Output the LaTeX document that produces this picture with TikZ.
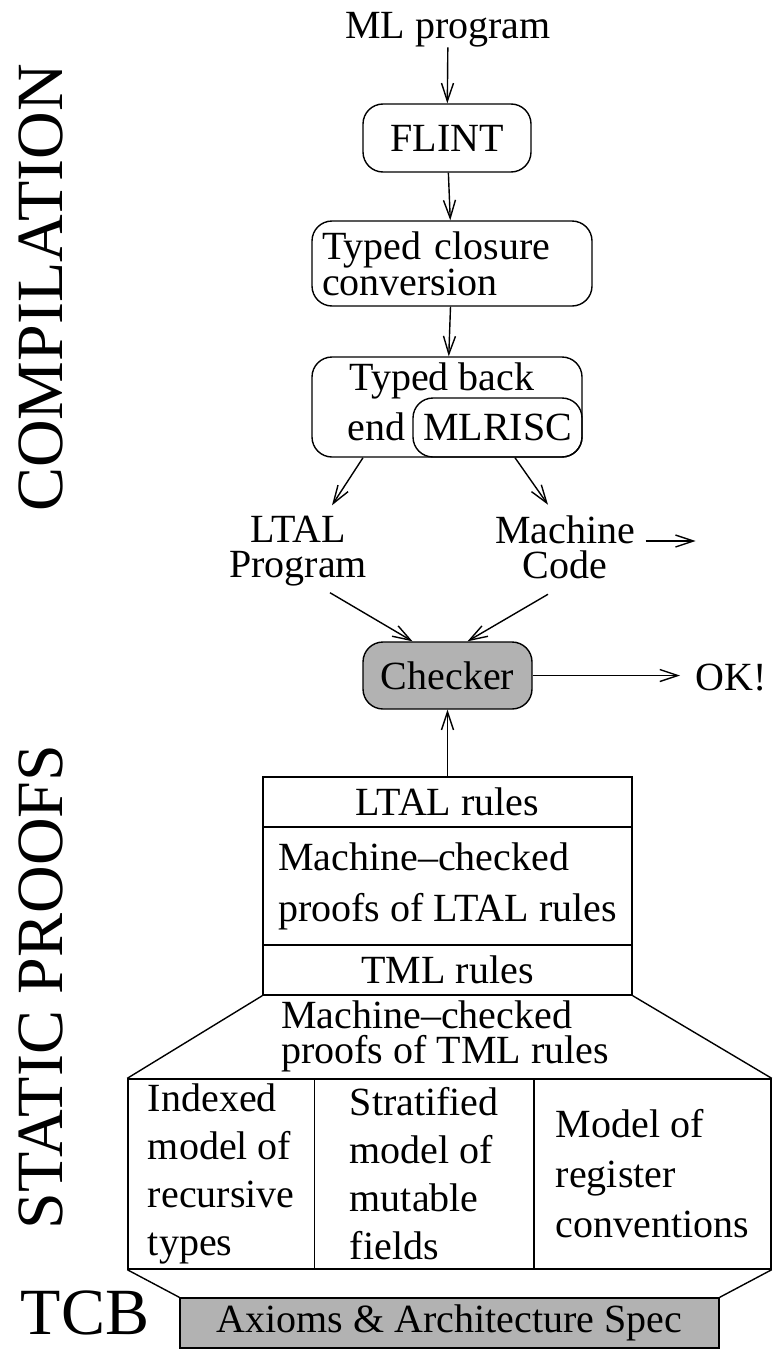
\documentclass[tikz,border=0pt]{standalone}
\usepackage{fontspec}
\setmainfont{Liberation Serif}
\usetikzlibrary{arrows.meta}

\tikzset{
  box/.style={draw, inner sep=0pt, font=\fontsize{40}{35}\selectfont},
  stage/.style={box, rounded corners=20pt},
  col/.style={box, minimum height=190pt, align=left, font=\fontsize{40}{48}\selectfont},
  txt/.style={inner sep=0pt, font=\fontsize{40}{35}\selectfont, align=center},
  big/.style={inner sep=0pt, font=\fontsize{66}{66}\selectfont},
  flow/.style={-{Straight Barb[length=18pt,width=12pt]}},
}

\begin{document}
\begin{tikzpicture}[x=1pt, y=-1pt, line width=1.4pt]
	\useasboundingbox (0,0) rectangle (773,1349);

	% side labels
	\node[big, rotate=90, anchor=base] (comp) at (62,288) {COMPILATION};
	\node[big, rotate=90, anchor=base] (stat) at (62,987) {STATIC PROOFS};
	\node[big, anchor=base west] (tcb) at (20,1334) {TCB};

	% compilation
	\node[txt, anchor=base] (ml) at (448,38) {ML program};
	\node[stage, minimum width=168pt, minimum height=68pt] (flint) at (447,138) {FLINT};
	\node[stage, text width=260pt, align=left, inner xsep=10pt, minimum height=85pt] (closure) at (452,263.5) {Typed closure\\conversion};
	\node[stage, minimum width=270pt, minimum height=100pt] (backend) at (447,407) {};
	\node[txt, anchor=base] (typedback) at (442,390) {Typed back};
	\node[txt, anchor=base west] (endtxt) at (347,440) {end};
	\node[stage, minimum width=169pt, minimum height=59pt] (mlrisc) at (497.5,427.5) {MLRISC};
	\node[txt] (ltal) at (298,551) {LTAL\\Program};
	\node[txt] (mcode) at (565,547) {Machine\\Code};
	\coordinate (mcout) at ([xshift=60pt,yshift=6pt]mcode.east);

	\draw[flow] (ml) -- (flint);
	\draw[flow] (flint) -- (closure);
	\draw[flow] (closure) -- (backend);
	\draw[flow] ([xshift=-84pt]backend.south) -- ([xshift=34pt,yshift=10pt]ltal.north);
	\draw[flow] ([xshift=68pt]backend.south) -- ([xshift=-17pt,yshift=10pt]mcode.north);
	\draw[flow] ([xshift=10pt,yshift=6pt]mcode.east) -- (mcout);

	% checker
	\node[stage, fill=black!30, minimum width=169pt, minimum height=67pt] (checker) at (447.5,675.5) {Checker};
	\node[txt, anchor=west] (ok) at (695,678) {OK!};
	\draw[flow] ([xshift=32pt,yshift=-6pt]ltal.south) -- ([xshift=-35pt]checker.north);
	\draw[flow] ([xshift=-17pt,yshift=-15pt]mcode.south) -- ([xshift=20pt]checker.north);
	\draw[flow] (checker.east) -- ([xshift=-15pt]checker.east -| ok.west);

	% static proofs
	\node[box, minimum width=369pt, minimum height=50pt] (ltalrules) at (447.5,802) {LTAL rules};
	\node[box, minimum width=369pt, minimum height=118pt, align=left, font=\fontsize{40}{51}\selectfont] (ltalproofs) at (447.5,886) {Machine–checked\\proofs of LTAL rules};
	\node[box, minimum width=369pt, minimum height=50pt] (tmlrules) at (447.5,970) {TML rules};
	\draw[flow] (ltalrules.north) -- (checker.south);

	\node[txt, align=left] (tmlproofs) at (445,1036) {Machine–checked\\proofs of TML rules};
	\node[col, minimum width=186.5pt] (indexed) at (221.25,1174) {Indexed\\model of\\recursive\\types};
	\node[col, minimum width=219.5pt] (stratified) at (424.25,1174) {Stratified\\model of\\mutable\\fields};
	\node[col, minimum width=237pt, font=\fontsize{40}{50}\selectfont] (registers) at (652.5,1174) {Model of\\register\\conventions};
	\draw (tmlrules.south west) -- (indexed.north west);
	\draw (tmlrules.south east) -- (registers.north east);

	% tcb
	\node[box, fill=black!30, minimum width=539pt, minimum height=50pt] (axioms) at (449.5,1323) {Axioms \& Architecture Spec};
	\draw (indexed.south west) -- (axioms.north west);
	\draw (registers.south east) -- (axioms.north east);
\end{tikzpicture}
\end{document}
